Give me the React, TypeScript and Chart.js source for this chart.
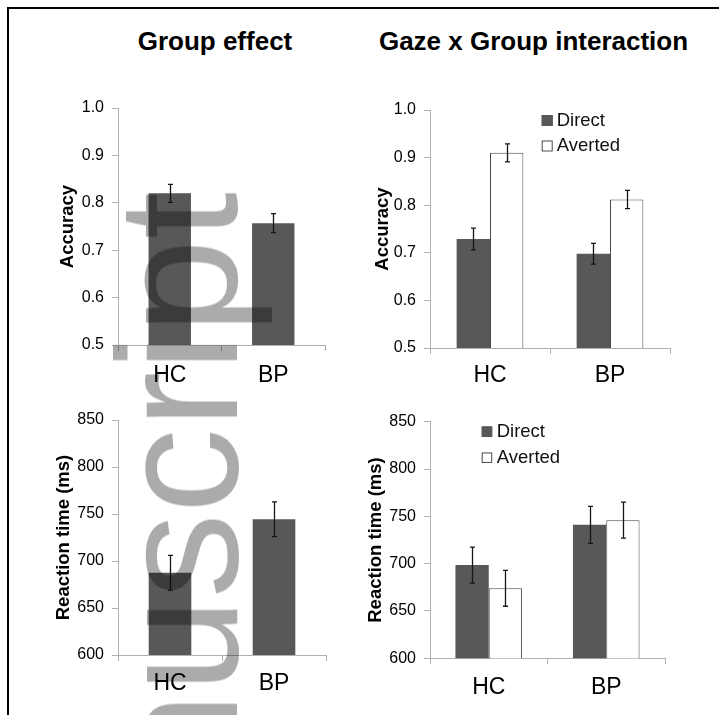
import React, { useEffect, useRef } from 'react';
import { Chart, registerables } from 'chart.js';

Chart.register(...registerables);

// ---------------- data ----------------
const groups = ['HC', 'BP'];
const seriesLabels = ['Direct', 'Averted'];

const groupAccuracy = [0.82, 0.757];
const groupAccuracyErr = [0.019, 0.02];

const directAccuracy = [0.729, 0.698];
const directAccuracyErr = [0.023, 0.022];
const avertedAccuracy = [0.91, 0.812];
const avertedAccuracyErr = [0.019, 0.019];

const groupRT = [687.5, 744.5];
const groupRTErr = [18.5, 18.5];

const directRT = [698.5, 741];
const directRTErr = [19, 19.5];
const avertedRT = [674, 746];
const avertedRTErr = [19, 19];

const accuracyRange = [0.5, 1.0];
const accuracyStep = 0.1;
const rtRange = [600, 850];
const rtStep = 50;

const panelTitles = ['Group effect', 'Gaze x Group interaction'];
const yTitles = ['Accuracy', 'Reaction time (ms)'];
const watermarkText = 'Author Manuscript';

// ---------------- styles ----------------
const FONT = '"Liberation Sans", Arial, Helvetica, sans-serif';
const DARK = '#585858';
const AXIS = '#b0b0b0';

Chart.defaults.font.family = FONT;

const errorBarPlugin = {
  id: 'errorBars',
  afterDatasetsDraw(chart: any) {
    const ctx = chart.ctx;
    const yScale = chart.scales.y;
    ctx.save();
    ctx.strokeStyle = '#151515';
    ctx.lineWidth = 1.3;
    chart.data.datasets.forEach((ds: any, i: number) => {
      const errs = ds.errors;
      if (!errs) return;
      const meta = chart.getDatasetMeta(i);
      meta.data.forEach((bar: any, j: number) => {
        const v = ds.data[j];
        const x = Math.round(bar.x) + 0.5;
        const yTop = yScale.getPixelForValue(v + errs[j]);
        const yBot = yScale.getPixelForValue(v - errs[j]);
        ctx.beginPath();
        ctx.moveTo(x, yTop);
        ctx.lineTo(x, yBot);
        ctx.moveTo(x - 2.5, yTop);
        ctx.lineTo(x + 2.5, yTop);
        ctx.moveTo(x - 2.5, yBot);
        ctx.lineTo(x + 2.5, yBot);
        ctx.stroke();
      });
    });
    ctx.restore();
  },
};

const insideLegendPlugin = {
  id: 'insideLegend',
  afterDraw(chart: any, _args: any, opts: any) {
    if (!opts || !opts.show) return;
    const { ctx, chartArea } = chart;
    const box = opts.box;
    ctx.save();
    ctx.font = `${opts.fontSize}px ${FONT}`;
    ctx.textBaseline = 'middle';
    ctx.textAlign = 'left';
    chart.data.datasets.forEach((ds: any, i: number) => {
      const cy = chartArea.top + opts.y + i * opts.gap;
      const sx = chartArea.left + opts.x;
      ctx.fillStyle = ds.backgroundColor;
      ctx.fillRect(sx, cy - box / 2, box, box);
      ctx.strokeStyle = ds.borderWidth ? ds.borderColor : ds.backgroundColor;
      ctx.lineWidth = 1;
      ctx.strokeRect(sx + 0.5, cy - box / 2 + 0.5, box - 1, box - 1);
      ctx.fillStyle = '#111';
      ctx.fillText(ds.label, sx + opts.textGap, cy);
    });
    ctx.restore();
  },
};

type Series = { label: string; data: number[]; errors: number[]; fill: string; border: string; bw: number };
type Spec = {
  id: string;
  left: number; top: number; width: number; height: number;
  padTop: number; padRight: number; yAxisW: number; xAxisH: number;
  yTitlePad: number; xPad: number; yTitle: string;
  range: number[]; step: number; decimals: number;
  series: Series[]; barPct: number; catPct: number;
  legend: any;
};

const panels: Spec[] = [
  {
    id: 'accGroup', left: 20, top: 80, width: 330, height: 320,
    padTop: 28, padRight: 25, yAxisW: 98, xAxisH: 55, yTitlePad: 37, xPad: 11,
    yTitle: yTitles[0], range: accuracyRange, step: accuracyStep, decimals: 1,
    series: [{ label: 'Accuracy', data: groupAccuracy, errors: groupAccuracyErr, fill: DARK, border: DARK, bw: 0 }],
    barPct: 0.41, catPct: 1, legend: { show: false },
  },
  {
    id: 'accGaze', left: 350, top: 80, width: 369, height: 320,
    padTop: 30, padRight: 49, yAxisW: 80, xAxisH: 52, yTitlePad: 22, xPad: 8,
    yTitle: yTitles[0], range: accuracyRange, step: accuracyStep, decimals: 1,
    series: [
      { label: seriesLabels[0], data: directAccuracy, errors: directAccuracyErr, fill: DARK, border: DARK, bw: 0 },
      { label: seriesLabels[1], data: avertedAccuracy, errors: avertedAccuracyErr, fill: '#ffffff', border: '#4a4a4a', bw: 1 },
    ],
    barPct: 1, catPct: 0.556,
    legend: { show: true, x: 111.7, y: 10.5, gap: 25.5, box: 11, textGap: 15, fontSize: 18.5 },
  },
  {
    id: 'rtGroup', left: 20, top: 395, width: 330, height: 320,
    padTop: 25, padRight: 24, yAxisW: 98, xAxisH: 60, yTitlePad: 33, xPad: 9,
    yTitle: yTitles[1], range: rtRange, step: rtStep, decimals: 0,
    series: [{ label: 'Reaction time', data: groupRT, errors: groupRTErr, fill: DARK, border: DARK, bw: 0 }],
    barPct: 0.41, catPct: 1, legend: { show: false },
  },
  {
    id: 'rtGaze', left: 350, top: 395, width: 369, height: 320,
    padTop: 26.7, padRight: 54, yAxisW: 80, xAxisH: 56.7, yTitlePad: 15, xPad: 10,
    yTitle: yTitles[1], range: rtRange, step: rtStep, decimals: 0,
    series: [
      { label: seriesLabels[0], data: directRT, errors: directRTErr, fill: DARK, border: DARK, bw: 0 },
      { label: seriesLabels[1], data: avertedRT, errors: avertedRTErr, fill: '#ffffff', border: '#4a4a4a', bw: 1 },
    ],
    barPct: 1, catPct: 0.567,
    legend: { show: true, x: 51.7, y: 10, gap: 26, box: 10.5, textGap: 15, fontSize: 18.5 },
  },
];

function buildConfig(p: Spec): any {
  return {
    type: 'bar',
    data: {
      labels: groups,
      datasets: p.series.map((s) => ({
        label: s.label,
        data: s.data,
        errors: s.errors,
        backgroundColor: s.fill,
        borderColor: s.border,
        borderWidth: s.bw,
        borderSkipped: 'start',
        barPercentage: p.barPct,
        categoryPercentage: p.catPct,
      })),
    },
    options: {
      responsive: false,
      animation: false,
      devicePixelRatio: 1,
      layout: { padding: { top: p.padTop, right: p.padRight, left: 0, bottom: 0 } },
      plugins: {
        legend: { display: false },
        tooltip: { enabled: false },
        title: { display: false },
        insideLegend: p.legend,
      },
      scales: {
        x: {
          type: 'category',
          offset: true,
          grid: { display: true, offset: true, drawOnChartArea: false, drawTicks: true, tickLength: 6, color: AXIS },
          border: { display: true, color: AXIS, width: 1 },
          ticks: { font: { family: FONT, size: 23 }, color: '#000', padding: p.xPad, maxRotation: 0 },
          afterFit: (s: any) => { s.height = p.xAxisH; },
        },
        y: {
          type: 'linear',
          min: p.range[0],
          max: p.range[1],
          grid: { display: true, drawOnChartArea: false, drawTicks: true, tickLength: 6, color: AXIS },
          border: { display: true, color: AXIS, width: 1 },
          ticks: {
            stepSize: p.step,
            font: { family: FONT, size: 16 },
            color: '#000',
            padding: 8,
            callback: (v: any) => Number(v).toFixed(p.decimals),
          },
          title: {
            display: true,
            text: p.yTitle,
            font: { family: FONT, size: 18.5, weight: 'bold' },
            color: '#000',
            padding: { top: p.yTitlePad, bottom: 0 },
          },
          afterFit: (s: any) => { s.width = p.yAxisW; },
        },
      },
    },
    plugins: [errorBarPlugin, insideLegendPlugin],
  };
}

function Panel({ spec }: { spec: Spec }) {
  const ref = useRef<HTMLCanvasElement | null>(null);
  useEffect(() => {
    if (!ref.current) return;
    const chart = new Chart(ref.current, buildConfig(spec));
    return () => chart.destroy();
  }, [spec]);
  return (
    <canvas
      ref={ref}
      width={spec.width}
      height={spec.height}
      style={{ position: 'absolute', left: spec.left, top: spec.top, width: spec.width, height: spec.height }}
    />
  );
}

function titleStyle(cx: number): React.CSSProperties {
  return {
    position: 'absolute',
    left: cx - 200,
    width: 400,
    top: 28,
    textAlign: 'center',
    fontSize: 26,
    lineHeight: '26px',
    fontWeight: 'bold',
    whiteSpace: 'nowrap',
    color: '#000',
  };
}

export default function App() {
  useEffect(() => {
    document.body.style.margin = '0';
  }, []);
  const wmSize = 170;
  return (
    <div
      style={{
        position: 'absolute', left: 0, top: 0, width: 719, height: 715,
        overflow: 'hidden', background: '#fff', fontFamily: FONT,
      }}
    >
      <div
        style={{
          position: 'absolute', left: 7, top: 7, width: 740, height: 740,
          borderTop: '2px solid #000', borderLeft: '2px solid #000',
        }}
      />
      <div style={titleStyle(215)}>{panelTitles[0]}</div>
      <div style={titleStyle(533.5)}>{panelTitles[1]}</div>
      {panels.map((p) => (
        <Panel key={p.id} spec={p} />
      ))}
      <div
        style={{
          position: 'absolute',
          left: 236.8 - 0.8465 * wmSize,
          top: 192.1,
          width: 'max-content',
          transformOrigin: '0 0',
          transform: 'rotate(-90deg) translateX(-100%)',
          fontFamily: FONT,
          fontSize: wmSize,
          lineHeight: `${wmSize}px`,
          whiteSpace: 'nowrap',
          color: 'rgba(0,0,0,0.33)',
          pointerEvents: 'none',
        }}
      >
        {watermarkText}
      </div>
    </div>
  );
}
